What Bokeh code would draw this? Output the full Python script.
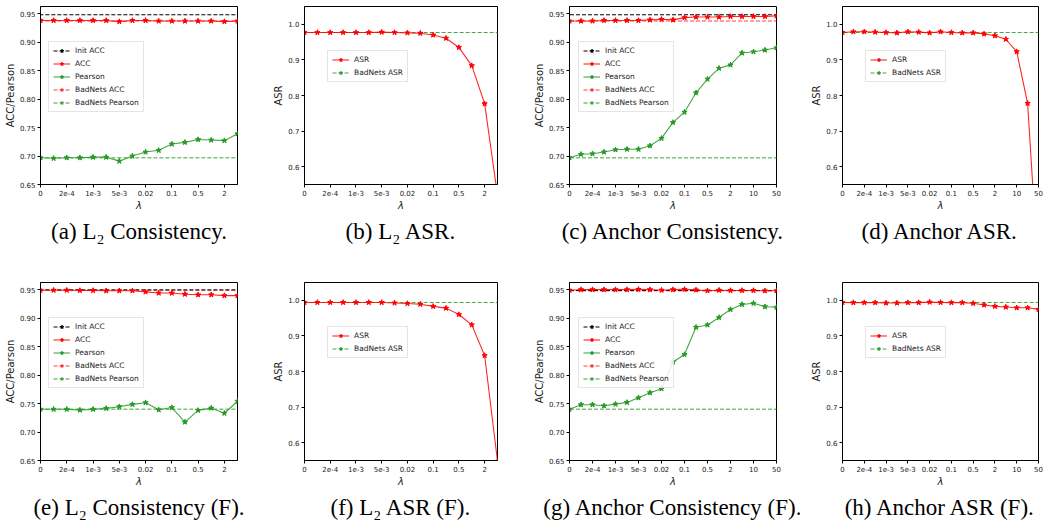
from bokeh.plotting import figure
from bokeh.models import (Range1d, FixedTicker, PrintfTickFormatter, Legend, LegendItem,
                          Title, ColumnDataSource)
from bokeh.layouts import column, row
from bokeh.embed import file_html
from bokeh.resources import INLINE

# ---------------- data ----------------
TICKS_L2 = ["0", "2e-4", "1e-3", "5e-3", "0.02", "0.1", "0.5", "2"]
TICKS_ANCHOR = ["0", "2e-4", "1e-3", "5e-3", "0.02", "0.1", "0.5", "2", "10", "50"]

# (a) L2 Consistency
a_acc = [0.938, 0.938, 0.938, 0.938, 0.938, 0.938, 0.936, 0.938, 0.938, 0.937, 0.937, 0.937, 0.937, 0.937, 0.936, 0.937]
a_pearson = [0.697, 0.696, 0.697, 0.697, 0.698, 0.698, 0.691, 0.700, 0.707, 0.710, 0.721, 0.724, 0.729, 0.728, 0.727, 0.739]
a_init_acc = 0.948
a_badnets_acc = 0.937
a_badnets_pearson = 0.697

# (b) L2 ASR
b_asr = [0.977, 0.977, 0.977, 0.977, 0.977, 0.977, 0.978, 0.977, 0.976, 0.975, 0.970, 0.961, 0.935, 0.884, 0.777, 0.52]
b_badnets_asr = 0.977

# (c) Anchor Consistency
c_acc = [0.937, 0.937, 0.937, 0.938, 0.938, 0.938, 0.938, 0.939, 0.940, 0.939, 0.943, 0.944, 0.944, 0.944, 0.945, 0.945, 0.945, 0.945, 0.946]
c_pearson = [0.697, 0.703, 0.704, 0.707, 0.711, 0.712, 0.712, 0.718, 0.731, 0.759, 0.777, 0.811, 0.835, 0.854, 0.860, 0.881, 0.883, 0.886, 0.890]
c_init_acc = 0.948
c_badnets_acc = 0.937
c_badnets_pearson = 0.697

# (d) Anchor ASR
d_asr = [0.977, 0.979, 0.979, 0.978, 0.977, 0.976, 0.979, 0.978, 0.976, 0.979, 0.977, 0.976, 0.976, 0.973, 0.968, 0.958, 0.923, 0.778, 0.29]
d_badnets_asr = 0.977

# (e) L2 Consistency (F)
e_acc = [0.949, 0.949, 0.949, 0.9485, 0.9485, 0.948, 0.948, 0.948, 0.946, 0.944, 0.944, 0.942, 0.941, 0.941, 0.9395, 0.9395]
e_pearson = [0.740, 0.740, 0.740, 0.7385, 0.740, 0.7415, 0.7445, 0.7485, 0.7515, 0.739, 0.743, 0.7175, 0.738, 0.742, 0.733, 0.754]
e_init_acc = 0.9495
e_badnets_acc = 0.949
e_badnets_pearson = 0.740

# (f) L2 ASR (F)
f_asr = [0.994, 0.994, 0.994, 0.994, 0.994, 0.994, 0.994, 0.9925, 0.991, 0.989, 0.983, 0.978, 0.960, 0.931, 0.845, 0.548]
f_badnets_asr = 0.994

# (g) Anchor Consistency (F)
g_acc = [0.949, 0.950, 0.950, 0.950, 0.950, 0.950, 0.9505, 0.950, 0.949, 0.950, 0.9505, 0.9495, 0.948, 0.949, 0.9485, 0.9485, 0.9485, 0.948, 0.948]
g_pearson = [0.740, 0.748, 0.748, 0.746, 0.749, 0.752, 0.760, 0.769, 0.776, 0.823, 0.836, 0.884, 0.888, 0.901, 0.915, 0.924, 0.926, 0.920, 0.919]
g_init_acc = 0.9485
g_badnets_acc = 0.948
g_badnets_pearson = 0.740

# (h) Anchor ASR (F)
h_asr = [0.994, 0.9935, 0.9935, 0.9935, 0.9925, 0.9925, 0.9935, 0.9935, 0.995, 0.994, 0.9935, 0.9935, 0.9915, 0.987, 0.983, 0.981, 0.979, 0.979, 0.9745]
h_badnets_asr = 0.994

CONS_YRANGE = (0.65, 0.9625)
CONS_YTICKS = [0.65, 0.70, 0.75, 0.80, 0.85, 0.90, 0.95]
ASR_YRANGE = (0.55, 1.05)
ASR_YTICKS = [0.6, 0.7, 0.8, 0.9, 1.0]

# ---------------- style ----------------
RED = "#ff0000"
GREEN = "#259925"
FONT = "DejaVu Sans"
SERIF = "Liberation Serif"

COL_W = [270, 260, 270, 244]
COL_L = [40, 30, 33, 42]
COL_R = [33, 33, 24, 6]
ROW_H = [276, 251]
TOP = 6
FRAME_H = 178


def base_fig(col, rowi, n, yrange, yticks, yfmt, ylabel, ticklabels, caption):
    h = ROW_H[rowi]
    p = figure(width=COL_W[col], height=h, x_range=Range1d(0, n - 1),
               y_range=Range1d(*yrange), output_backend="svg", toolbar_location=None,
               title=None, min_border_left=COL_L[col], min_border_right=COL_R[col],
               min_border_top=TOP, min_border_bottom=h - TOP - FRAME_H)
    p.outline_line_color = "black"
    p.outline_line_width = 1
    p.outline_line_alpha = 1
    p.xgrid.visible = False
    p.ygrid.visible = False
    p.background_fill_color = "white"
    p.border_fill_color = "white"
    p.xaxis.ticker = FixedTicker(ticks=[2 * i for i in range(len(ticklabels))])
    p.xaxis.major_label_overrides = {2 * i: lab for i, lab in enumerate(ticklabels)}
    p.yaxis.ticker = FixedTicker(ticks=yticks)
    p.yaxis.formatter = PrintfTickFormatter(format=yfmt)
    for ax in p.axis:
        ax.major_tick_in = 0
        ax.major_tick_out = 3
        ax.minor_tick_in = 0
        ax.minor_tick_out = 0
        ax.major_label_text_font = FONT
        ax.major_label_text_font_size = "7px"
        ax.major_label_text_color = "#222222"
        ax.major_label_standoff = 2
        ax.axis_label_text_font = FONT
        ax.axis_label_text_font_size = "10px"
        ax.axis_label_text_font_style = "normal"
        ax.axis_label_text_color = "#222222"
        ax.axis_label_standoff = 1
        ax.axis_line_color = "black"
        ax.major_tick_line_color = "black"
    p.xaxis.axis_label = "λ"
    p.xaxis.axis_label_text_font_style = "italic"
    p.yaxis.axis_label = ylabel
    p.add_layout(Title(text=caption, align="center", text_font=SERIF, text_font_size="23px",
                       text_font_style="normal", text_color="black", standoff=6), "below")
    return p


def make_legend(items, vx, vy):
    return Legend(items=items, location=(vx, vy), label_text_font=FONT,
                  label_text_font_size="7.5px", label_text_color="#222222",
                  glyph_width=17, glyph_height=9, label_height=9, label_standoff=5,
                  padding=4, spacing=4, margin=0, border_line_color="#cccccc",
                  border_line_width=1, background_fill_color="white",
                  background_fill_alpha=0.85)


def hline(p, n, yv, color, alpha, width, dash):
    # reference line spanning the whole axes (like axhline); its end markers fall
    # just outside the visible range, so they only show in the legend entry
    src = ColumnDataSource(dict(x=[-1, n], y=[yv, yv]))
    ln = p.line("x", "y", source=src, line_color=color, line_alpha=alpha,
                line_width=width, line_dash=dash)
    mk = p.scatter("x", "y", source=src, marker="star", size=5, fill_color=color,
                   line_color=color, fill_alpha=alpha, line_alpha=alpha)
    return [ln, mk]


def series(p, vals, color, alpha):
    src = ColumnDataSource(dict(x=list(range(len(vals))), y=vals))
    ln = p.line("x", "y", source=src, line_color=color, line_width=1.1, line_alpha=alpha)
    mk = p.scatter("x", "y", source=src, marker="star", size=5.5, fill_color=color,
                   line_color=color)
    return [ln, mk]


def consistency(col, rowi, ticklabels, acc, pearson, init_acc, bn_acc, bn_pearson, caption):
    n = len(acc)
    p = base_fig(col, rowi, n, CONS_YRANGE, CONS_YTICKS, "%.2f", "ACC/Pearson", ticklabels, caption)
    r_bnp = hline(p, n, bn_pearson, GREEN, 0.6, 1.3, "4 2")
    r_bna = hline(p, n, bn_acc, RED, 0.5, 1.6, "4 2")
    r_init = hline(p, n, init_acc, "black", 1.0, 1.0, "4 2")
    r_p = series(p, pearson, GREEN, 0.85)
    r_a = series(p, acc, RED, 0.85)
    items = [LegendItem(label="Init ACC", renderers=r_init),
             LegendItem(label="ACC", renderers=r_a),
             LegendItem(label="Pearson", renderers=r_p),
             LegendItem(label="BadNets ACC", renderers=r_bna),
             LegendItem(label="BadNets Pearson", renderers=r_bnp)]
    vx = 8 if col == 0 else 9
    p.add_layout(make_legend(items, vx, 72))
    return p


def asr(col, rowi, ticklabels, vals, bn_asr, caption):
    n = len(vals)
    p = base_fig(col, rowi, n, ASR_YRANGE, ASR_YTICKS, "%.1f", "ASR", ticklabels, caption)
    r_bn = hline(p, n, bn_asr, GREEN, 0.85, 1.1, "4 2")
    r_a = series(p, vals, RED, 0.85)
    items = [LegendItem(label="ASR", renderers=r_a),
             LegendItem(label="BadNets ASR", renderers=r_bn)]
    p.add_layout(make_legend(items, 23, 102))
    return p


pa = consistency(0, 0, TICKS_L2, a_acc, a_pearson, a_init_acc, a_badnets_acc, a_badnets_pearson,
                 "(a) L₂ Consistency.")
pb = asr(1, 0, TICKS_L2, b_asr, b_badnets_asr, "(b) L₂ ASR.")
pc = consistency(2, 0, TICKS_ANCHOR, c_acc, c_pearson, c_init_acc, c_badnets_acc, c_badnets_pearson,
                 "(c) Anchor Consistency.")
pd = asr(3, 0, TICKS_ANCHOR, d_asr, d_badnets_asr, "(d) Anchor ASR.")
pe = consistency(0, 1, TICKS_L2, e_acc, e_pearson, e_init_acc, e_badnets_acc, e_badnets_pearson,
                 "(e) L₂ Consistency (F).")
pf = asr(1, 1, TICKS_L2, f_asr, f_badnets_asr, "(f) L₂ ASR (F).")
pg = consistency(2, 1, TICKS_ANCHOR, g_acc, g_pearson, g_init_acc, g_badnets_acc, g_badnets_pearson,
                 "(g) Anchor Consistency (F).")
ph = asr(3, 1, TICKS_ANCHOR, h_asr, h_badnets_asr, "(h) Anchor ASR (F).")

layout = column(row(pa, pb, pc, pd), row(pe, pf, pg, ph))
open("out.html", "w").write(file_html(layout, INLINE))
